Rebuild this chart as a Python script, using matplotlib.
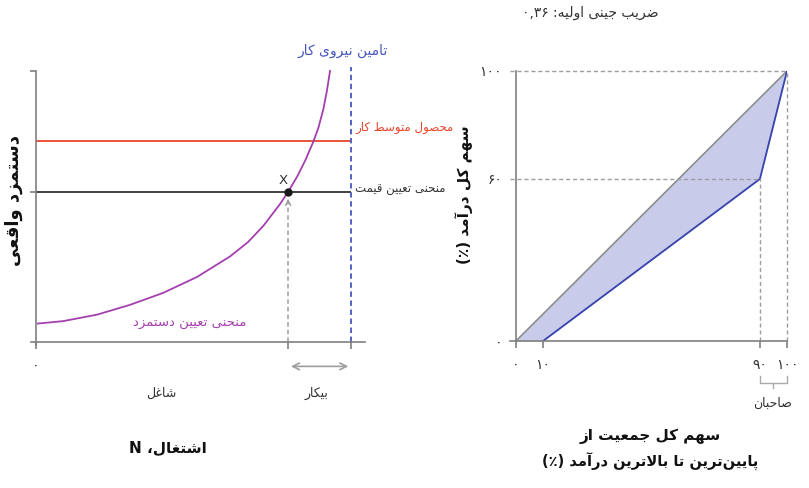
import re

import matplotlib

matplotlib.use("Agg")
import matplotlib.pyplot as plt

# left panel: wage-setting curve and labour market
emp_curve_x = [0.6, 8.6, 19.4, 29.8, 40.3, 51.1, 61.6, 67.3, 72.1, 77.5, 80,
               82.9, 85.4, 88.0, 89.6, 91.2, 92.3, 93.3]
wage_curve_y = [6.8, 7.7, 10.1, 13.7, 18.1, 24.0, 31.6, 36.9, 42.8, 51.0, 55.4,
                61.1, 66.9, 73.9, 79.0, 86.0, 92.6, 100]
price_wage = 55.4
labour_product = 74
eq_employment = 80
labour_force = 100

# right panel: Lorenz curve
pop_share = [0, 10, 90, 100]
income_share = [0, 0, 60, 100]
x_tick_labels = ["۰", "۱۰", "۹۰", "۱۰۰"]
y_ticks = [0, 60, 100]
y_tick_labels = ["۰", "۶۰", "۱۰۰"]
gini = "۰,۳۶"

PURPLE = "#a43fae"
RED = "#e8452c"
BLUE = "#4656c0"
AXIS = "#7f7f7f"
DARK = "#333333"
DASH = "#9e9e9e"
FILL = "#c8cbea"
LORENZ = "#3843ad"
DIAG = "#8a8a8a"

W, H = 809, 488

# --- minimal Persian shaping + visual ordering (no arabic_reshaper available) ---
DUAL = {
    "ب": 0xFE8F, "پ": 0xFB56, "ت": 0xFE95, "ث": 0xFE99, "ج": 0xFE9D, "چ": 0xFB7A,
    "ح": 0xFEA1, "خ": 0xFEA5, "س": 0xFEB1, "ش": 0xFEB5, "ص": 0xFEB9, "ض": 0xFEBD,
    "ط": 0xFEC1, "ظ": 0xFEC5, "ع": 0xFEC9, "غ": 0xFECD, "ف": 0xFED1, "ق": 0xFED5,
    "ک": 0xFB8E, "گ": 0xFB92, "ل": 0xFEDD, "م": 0xFEE1, "ن": 0xFEE5, "ه": 0xFEE9,
    "ی": 0xFBFC,
}
RIGHT = {
    "ا": 0xFE8D, "آ": 0xFE81, "د": 0xFEA9, "ذ": 0xFEAB, "ر": 0xFEAD, "ز": 0xFEAF,
    "ژ": 0xFB8A, "و": 0xFEED,
}
LETTERS = {**DUAL, **RIGHT}
LTR = re.compile(r"[0-9۰-۹A-Za-z][0-9۰-۹A-Za-z,٫.]*")
MIRROR = str.maketrans("()", ")(")


def shape(s):
    out = []
    i = 0
    while i < len(s):
        c = s[i]
        if c not in LETTERS:
            if c != "\u200c":
                out.append(c)
            i += 1
            continue
        join_prev = i > 0 and s[i - 1] in DUAL
        nxt = s[i + 1] if i + 1 < len(s) else ""
        if c == "ل" and nxt in ("ا", "آ"):
            base = 0xFEFB if nxt == "ا" else 0xFEF5
            out.append(chr(base + int(join_prev)))
            i += 2
            continue
        if c in DUAL:
            join_next = nxt in LETTERS
            k = {(0, 0): 0, (1, 0): 1, (0, 1): 2, (1, 1): 3}[(int(join_prev), int(join_next))]
            out.append(chr(DUAL[c] + k))
        else:
            out.append(chr(RIGHT[c] + int(join_prev)))
        i += 1
    return "".join(out)


def fa(s):
    s = shape(s)
    parts = []
    pos = 0
    for m in LTR.finditer(s):
        if m.start() > pos:
            parts.append(s[pos:m.start()][::-1].translate(MIRROR))
        parts.append(m.group())
        pos = m.end()
    if pos < len(s):
        parts.append(s[pos:][::-1].translate(MIRROR))
    return "".join(reversed(parts))


def px(x, y):
    return x / W, 1 - y / H


fig = plt.figure(figsize=(W / 100, H / 100), dpi=100)
fig.patch.set_facecolor("white")


def label(x, y, s, size=9, color=DARK, ha="center", **kw):
    fig.text(*px(x, y), fa(s), fontsize=size, color=color, ha=ha, va="center",
             family=["DejaVu Sans"], **kw)


# ---------------- left panel ----------------
ax1 = fig.add_axes([31 / W, (H - 344.7) / H, 334 / W, 273.7 / H])
ax1.set_xlim(-1.6, 104.4)
ax1.set_ylim(-1, 100)
for side in ("top", "right"):
    ax1.spines[side].set_visible(False)
for side in ("left", "bottom"):
    ax1.spines[side].set_position(("data", 0))
    ax1.spines[side].set_color(AXIS)
    ax1.spines[side].set_linewidth(1.2)
ax1.set_xticks([0, eq_employment, labour_force])
ax1.set_xticklabels([x_tick_labels[0], "", ""])
ax1.set_yticks([price_wage, 100])
ax1.set_yticklabels(["", ""])
ax1.tick_params(axis="x", length=5, width=1.2, color=AXIS, pad=7, labelsize=10, labelcolor=DARK)
ax1.tick_params(axis="y", length=4, width=1.2, color=AXIS)

ax1.hlines(labour_product, 0, labour_force, color=RED, lw=1.3)
ax1.hlines(price_wage, 0, labour_force, color=DARK, lw=1.3)
ax1.vlines(labour_force, 0, 101.5, color=BLUE, lw=1.3, ls=(0, (3, 2)), clip_on=False)
ax1.vlines(eq_employment, 0, price_wage - 3, color=DASH, lw=1.1, ls=(0, (3, 2)))
ax1.annotate("", xy=(eq_employment, price_wage - 1.5), xytext=(eq_employment, price_wage - 5),
             arrowprops=dict(arrowstyle="->", color=DASH, lw=1.1, mutation_scale=9))
ax1.plot(emp_curve_x, wage_curve_y, color=PURPLE, lw=1.3, clip_on=False)
ax1.plot([eq_employment], [price_wage], "o", color="#1a1a1a", ms=5, zorder=5)
ax1.annotate("", xy=(eq_employment, -9), xytext=(labour_force, -9), annotation_clip=False,
             arrowprops=dict(arrowstyle="<->", color=DASH, lw=1.2, mutation_scale=12))

fig.text(*px(283, 180), "X", fontsize=9.5, color=DARK, ha="center", va="center")
label(343, 51, "تامین نیروی کار", size=10, color=BLUE)
label(355, 127, "محصول متوسط کار", size=8.5, color=RED, ha="left")
label(355, 190, "منحنی تعیین قیمت", size=8.5, ha="left")
label(190, 323, "منحنی تعیین دستمزد", size=9.5, color=PURPLE)
label(14, 200, "دستمزد واقعی", size=13, color="#111111", rotation=90, fontweight="bold")
label(161, 393, "شاغل", size=9)
label(316, 393, "بیکار", size=9)
label(168, 448, "اشتغال، N", size=11, color="#111111", fontweight="bold")

# ---------------- right panel ----------------
ax2 = fig.add_axes([510 / W, (H - 341) / H, 277 / W, 270 / H])
ax2.set_xlim(-2.2, 100)
ax2.set_ylim(0, 100)
for side in ("top", "right"):
    ax2.spines[side].set_visible(False)
ax2.spines["left"].set_position(("data", 0))
for side in ("left", "bottom"):
    ax2.spines[side].set_color(AXIS)
    ax2.spines[side].set_linewidth(1.2)

ax2.fill_between(pop_share, pop_share, income_share, color=FILL, lw=0)
ax2.plot(pop_share, pop_share, color=DIAG, lw=1.2)
ax2.plot(pop_share[1:], income_share[1:], color=LORENZ, lw=1.3)
ax2.hlines(100, -2.2, 100, color=DASH, lw=1, ls=(0, (3, 2)), clip_on=False)
ax2.hlines(income_share[2], -2.2, pop_share[2], color=DASH, lw=1, ls=(0, (3, 2)))
ax2.vlines(pop_share[2], 0, income_share[2], color=DASH, lw=1, ls=(0, (3, 2)))
ax2.vlines(100, 0, 100, color=DASH, lw=1, ls=(0, (3, 2)), clip_on=False)

ax2.set_xticks(pop_share)
ax2.set_xticklabels(x_tick_labels)
ax2.set_yticks(y_ticks)
ax2.set_yticklabels(y_tick_labels)
ax2.tick_params(axis="x", length=5, width=1.2, color=AXIS, pad=7, labelsize=10, labelcolor=DARK)
ax2.tick_params(axis="y", length=0, pad=10, labelsize=10, labelcolor=DARK)

# owners bracket under 90-100
bx0, bx1 = pop_share[2], pop_share[3]
ax2.plot([bx0, bx0, bx1, bx1], [-13, -15.6, -15.6, -13], color="#aaaaaa", lw=1, clip_on=False)
ax2.plot([(bx0 + bx1) / 2] * 2, [-15.6, -17.5], color="#aaaaaa", lw=1, clip_on=False)

label(590, 13, "ضریب جینی اولیه: " + gini, size=10)
label(464, 195, "سهم کل درآمد (٪)", size=11, color="#111111", rotation=90, fontweight="bold")
label(650, 436, "سهم کل جمعیت از", size=11, color="#111111", fontweight="bold")
label(650, 462, "پایین\u200cترین تا بالاترین درآمد (٪)", size=10.5, color="#111111", fontweight="bold")
label(773, 403, "صاحبان", size=9)

fig.savefig("out.png", dpi=100, facecolor="white")
